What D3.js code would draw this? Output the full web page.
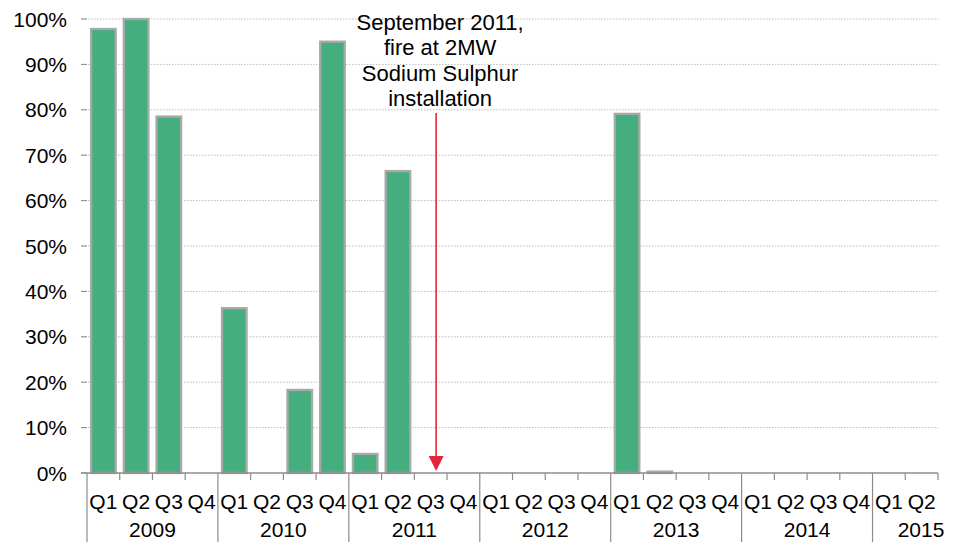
<!DOCTYPE html>
<html>
<head>
<meta charset="utf-8">
<script src="https://cdn.jsdelivr.net/npm/d3@7/dist/d3.min.js"></script>
<style>
  html, body { margin: 0; padding: 0; background: #fff; }
  svg { display: block; }
  text { font-family: "Liberation Sans", Arial, sans-serif; fill: #000; }
</style>
</head>
<body>
<svg id="chart" width="954" height="542"></svg>
<script>
// Quarterly availability of the storage installation, 2009 Q1 – 2015 Q2
const years = [2009, 2010, 2011, 2012, 2013, 2014, 2015];
const quarterNames = ["Q1", "Q2", "Q3", "Q4"];
const quarters = [
  "2009 Q1","2009 Q2","2009 Q3","2009 Q4",
  "2010 Q1","2010 Q2","2010 Q3","2010 Q4",
  "2011 Q1","2011 Q2","2011 Q3","2011 Q4",
  "2012 Q1","2012 Q2","2012 Q3","2012 Q4",
  "2013 Q1","2013 Q2","2013 Q3","2013 Q4",
  "2014 Q1","2014 Q2","2014 Q3","2014 Q4",
  "2015 Q1","2015 Q2"
];
const values = [
  0.978, 1.000, 0.785, 0,
  0.363, 0,     0.183, 0.950,
  0.042, 0.665, 0,     0,
  0,     0,     0,     0,
  0.791, 0.003, 0,     0,
  0,     0,     0,     0,
  0,     0
];
const yTicks = [0, 0.1, 0.2, 0.3, 0.4, 0.5, 0.6, 0.7, 0.8, 0.9, 1.0];

// Event marker: the fire in September 2011
const eventQuarter = "2011 Q3";
const eventMonthInQuarter = 2; // September is the third month of Q3
const eventLabel = ["September 2011,", "fire at 2MW", "Sodium Sulphur", "installation"];

const svg = d3.select("#chart");
const plotLeft = 87, plotRight = 938, plotTop = 19, plotBottom = 473;
const axisFont = 21;
const noteFont = 22;

const x = d3.scaleBand().domain(quarters).range([plotLeft, plotRight])
  .paddingInner(0.25).paddingOuter(0.125);
const y = d3.scaleLinear().domain([0, 1]).range([plotBottom, plotTop]);

function label(g, tx, ty, str, size, anchor) {
  return g.append("text")
    .attr("x", tx).attr("y", ty)
    .attr("text-anchor", anchor || "middle")
    .style("font-size", size + "px")
    .text(str);
}

// Dotted gridlines
const grid = svg.append("g");
grid.selectAll("line").data(yTicks.filter(d => d > 0)).join("line")
  .attr("x1", plotLeft - 5).attr("x2", plotRight)
  .attr("y1", d => y(d)).attr("y2", d => y(d))
  .attr("stroke", "#bdbdbd").attr("stroke-width", 1)
  .attr("stroke-dasharray", "1.5,1.5");

// Y axis ticks and labels
const yAxis = svg.append("g");
yAxis.selectAll("line").data(yTicks).join("line")
  .attr("x1", plotLeft - 6).attr("x2", plotLeft)
  .attr("y1", d => y(d)).attr("y2", d => y(d))
  .attr("stroke", "#8c8c8c").attr("stroke-width", 1);
yTicks.forEach(d => {
  label(yAxis, 67, y(d) + 7.5, d3.format(".0%")(d), axisFont, "end");
});

// Bars
const step = x.step();
svg.append("g").selectAll("rect")
  .data(quarters.map((q, i) => ({ q, v: values[i] })).filter(d => d.v > 0))
  .join("rect")
  .attr("x", d => x(d.q))
  .attr("width", x.bandwidth())
  .attr("y", d => y(d.v))
  .attr("height", d => y(0) - y(d.v))
  .attr("fill", "#45ae7f")
  .attr("stroke", "#a8a8a8")
  .attr("stroke-width", 2.3);

// X axis line, quarter ticks and year separators
const xAxis = svg.append("g");
xAxis.append("line")
  .attr("x1", plotLeft - 6).attr("x2", plotRight)
  .attr("y1", plotBottom).attr("y2", plotBottom)
  .attr("stroke", "#8c8c8c").attr("stroke-width", 1.5);

const boundaries = quarters.map(q => x(q) - step * x.paddingOuter()).concat([plotRight]);
xAxis.selectAll("line.qt").data(boundaries).join("line")
  .attr("class", "qt")
  .attr("x1", d => d).attr("x2", d => d)
  .attr("y1", plotBottom).attr("y2", (d, i) => (i % 4 === 0 ? 542 : plotBottom + 7))
  .attr("stroke", "#8c8c8c").attr("stroke-width", 1.2);

quarters.forEach((q, i) => {
  label(xAxis, x(q) + x.bandwidth() / 2, 508.5, quarterNames[i % 4], axisFont);
});
years.forEach((yr, k) => {
  const start = plotLeft + k * 4 * step;
  const center = Math.min(start + 2 * step, 921);
  label(xAxis, center, 537, String(yr), axisFont);
});

// Event arrow and annotation
const ax = x(eventQuarter) - step * x.paddingOuter() + step * eventMonthInQuarter / 3;
const tipY = y(0) - 2;
const ann = svg.append("g");
ann.append("line")
  .attr("x1", ax).attr("x2", ax)
  .attr("y1", 113).attr("y2", tipY - 12)
  .attr("stroke", "#e3263a").attr("stroke-width", 1.6);
ann.append("path")
  .attr("d", `M${ax - 7.5},${tipY - 15} L${ax + 7.5},${tipY - 15} L${ax},${tipY} Z`)
  .attr("fill", "#e3263a");
eventLabel.forEach((t, i) => {
  label(ann, ax + 4, 29.5 + i * 25.6, t, noteFont);
});
</script>
</body>
</html>
